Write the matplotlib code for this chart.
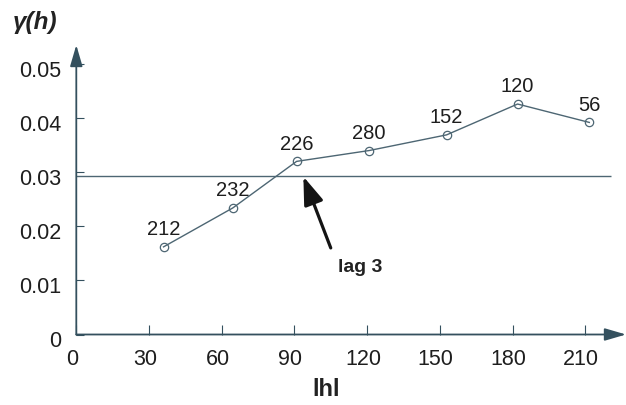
import matplotlib
matplotlib.use("Agg")
import matplotlib.pyplot as plt
from matplotlib.transforms import ScaledTranslation

# Experimental semivariogram: lag distance, semivariance, number of pairs
lag_h = [36, 64.6, 90.9, 120.8, 152.8, 182.1, 211.7]
gamma = [0.0162, 0.0234, 0.0320, 0.0340, 0.0369, 0.0426, 0.0392]
pairs = ["212", "232", "226", "280", "152", "120", "56"]
sill = 0.02935
x_ticks = [0, 30, 60, 90, 120, 150, 180, 210]
y_ticks = [0, 0.01, 0.02, 0.03, 0.04, 0.05]
y_tick_labels = ["0", "0.01", "0.02", "0.03", "0.04", "0.05"]

W, H = 626, 405
fig = plt.figure(figsize=(W / 100, H / 100), dpi=100)

x0_px, y0_px = 76.3, 334.5          # axis origin in pixels
px_per_x = 72.7 / 30
px_per_y = 5410.0
x_max = (W - x0_px) / px_per_x
y_max = (y0_px - 45) / px_per_y
ax = fig.add_axes([x0_px / W, (H - y0_px) / H, 1 - x0_px / W, (y0_px - 45) / H])
ax.set_xlim(0, x_max)
ax.set_ylim(0, y_max)
ax.patch.set_alpha(0)

axis_col = "#34505e"
line_col = "#4d6673"
text_col = "#1e1e1e"
sans = ["Liberation Sans", "DejaVu Sans"]

for s in ax.spines.values():
    s.set_visible(False)

# axes with arrowheads
arrow_style = "-|>,head_length=1.3,head_width=0.38"
ax.annotate("", xy=(x_max, 0), xytext=(0, 0), annotation_clip=False,
            arrowprops=dict(arrowstyle=arrow_style, color=axis_col, lw=1.3,
                            shrinkA=0, shrinkB=0))
ax.annotate("", xy=(0, y_max), xytext=(0, 0), annotation_clip=False,
            arrowprops=dict(arrowstyle=arrow_style, color=axis_col, lw=1.3,
                            shrinkA=0, shrinkB=0))

ax.set_xticks(x_ticks)
ax.set_xticklabels([str(v) for v in x_ticks])
ax.set_yticks(y_ticks)
ax.set_yticklabels(y_tick_labels)
ax.tick_params(axis="x", direction="in", length=7.5, width=0.8, color=axis_col,
               pad=10.5, labelsize=15.5, labelcolor=text_col)
ax.tick_params(axis="y", direction="in", length=5.5, width=0.8, color=axis_col,
               pad=11, labelsize=15.5, labelcolor=text_col)
shift_x = ScaledTranslation(-4 / 100, 0, fig.dpi_scale_trans)
shift_y = ScaledTranslation(0, -4.5 / 100, fig.dpi_scale_trans)
for lab in ax.get_xticklabels():
    lab.set_fontfamily(sans)
    lab.set_transform(lab.get_transform() + shift_x)
for lab in ax.get_yticklabels():
    lab.set_fontfamily(sans)
    lab.set_transform(lab.get_transform() + shift_y)

# sill line
ax.plot([0, 220.5], [sill, sill], color=line_col, lw=1.0, solid_capstyle="butt")

# semivariogram
ax.plot(lag_h, gamma, color=line_col, lw=1.0, marker="o", markersize=6,
        markerfacecolor="none", markeredgecolor=line_col, markeredgewidth=0.9)
for x, y, n in zip(lag_h, gamma, pairs):
    ax.annotate(n, (x, y), xytext=(0, 5.5), textcoords="offset points",
                ha="center", va="bottom", fontsize=14.5, color=text_col,
                family=sans)

# pointer to lag 3
ax.annotate("", xy=(93.7, 0.0292), xytext=(105, 0.0160),
            arrowprops=dict(arrowstyle="-|>,head_length=1.7,head_width=0.6",
                            color="#141414", lw=2.3, shrinkA=0, shrinkB=0,
                            mutation_scale=10))
ax.text(117, 0.0123, "lag 3", ha="center", va="center", fontsize=14,
        fontweight="bold", color="#222222", family=sans)

fig.text(326.5 / W, 1 - 389 / H, "lhl", ha="center", va="center", fontsize=17,
         fontweight="bold", color="#222222", family=sans)
fig.text(13 / W, 1 - 23 / H, "γ(h)", ha="left", va="center", fontsize=17.5,
         fontweight="bold", fontstyle="italic", color="#222222", family=sans)

fig.savefig("out.png", dpi=100)
